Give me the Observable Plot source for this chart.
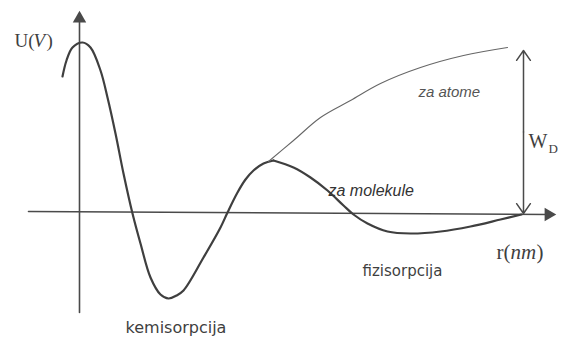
<!DOCTYPE html>
<html>
<head>
<meta charset="utf-8">
<script src="https://cdn.jsdelivr.net/npm/d3@7"></script>
<script src="https://cdn.jsdelivr.net/npm/@observablehq/plot@0.6"></script>
<style>
  body { margin: 0; background: #fff; }
  #chart svg { display: block; }
</style>
</head>
<body>
<div id="chart"></div>
<script>
// Distance r (arbitrary units, origin at the surface) and potential U (arbitrary units)
const chemR = [-18, -14, -8, 2, 10, 20, 27, 35, 43, 52, 60, 70, 80, 88, 96, 103, 123, 140, 147, 157, 165, 173, 183, 193];
const chemU = [136, 152, 165, 170, 165, 142, 115, 79, 39, -1, -31, -65, -82, -86, -83, -78, -45, -15, 0, 20, 33, 42, 49, 52];

const molR = [193, 213, 230, 247, 263, 273, 287, 307, 330, 360, 390, 420, 441];
const molU = [52, 45, 35, 22, 7, -2, -11, -19, -21, -19, -14, -7, -2];

const atomR = [188, 213, 240, 270, 300, 340, 383, 427];
const atomU = [51, 72, 95, 112, 129, 145, 157, 165];

const axisXR = [-52, 468];
const axisXU = [1, -2];
const axisYR = [-1, -1];
const axisYU = [-100, 194];

const wdR = 443;
const wdTop = 162;
const wdBottom = -1;

const labels = ["U(", "V", ")", "za atome", "za molekule", "r(", "nm", ")", "fizisorpcija", "kemisorpcija", "W", "D"];

const chem = chemR.map((r, i) => ({r, u: chemU[i]}));
const mol = molR.map((r, i) => ({r, u: molU[i]}));
const atom = atomR.map((r, i) => ({r, u: atomU[i]}));
const axX = axisXR.map((r, i) => ({r, u: axisXU[i]}));
const axY = axisYR.map((r, i) => ({r, u: axisYU[i]}));

const ink = "#3f3f3f";
const serif = "Liberation Serif, DejaVu Serif, serif";
const sans = "DejaVu Sans, Liberation Sans, sans-serif";
const italSans = "Liberation Sans, Arial, sans-serif";

const plot = Plot.plot({
  width: 569,
  height: 340,
  margin: 0,
  x: {domain: [-80, 489], axis: null},
  y: {domain: [-128, 212], axis: null},
  marks: [
    // axes
    Plot.line(axX, {x: "r", y: "u", stroke: "#4a4a4a", strokeWidth: 1.6}),
    Plot.line(axY, {x: "r", y: "u", stroke: "#4a4a4a", strokeWidth: 1.6}),
    Plot.dot([{r: -1, u: 194}], {x: "r", y: "u", symbol: "triangle", r: 5, fill: "#4a4a4a", stroke: "none"}),
    Plot.dot([{r: 468, u: -2}], {x: "r", y: "u", symbol: "triangle", r: 5, rotate: 90, fill: "#4a4a4a", stroke: "none"}),
    // curves
    Plot.line(chem, {x: "r", y: "u", curve: "catmull-rom", stroke: ink, strokeWidth: 2.2}),
    Plot.line(mol, {x: "r", y: "u", curve: "catmull-rom", stroke: ink, strokeWidth: 2.2}),
    Plot.line(atom, {x: "r", y: "u", curve: "catmull-rom", stroke: "#666", strokeWidth: 1.1}),
    // W_D double arrow
    Plot.arrow([{x1: wdR, y1: (wdTop + wdBottom) / 2, x2: wdR, y2: wdTop}, {x1: wdR, y1: (wdTop + wdBottom) / 2, x2: wdR, y2: wdBottom}],
      {x1: "x1", y1: "y1", x2: "x2", y2: "y2", stroke: "#4a4a4a", strokeWidth: 1.5, headLength: 12, headAngle: 70}),
    // labels
    Plot.text([labels[0]], {x: -66, y: 172, text: d => d, textAnchor: "start", fontSize: 19, fontFamily: serif, fill: ink}),
    Plot.text([labels[1]], {x: -47, y: 172, text: d => d, textAnchor: "start", fontSize: 19, fontFamily: serif, fontStyle: "italic", fill: ink}),
    Plot.text([labels[2]], {x: -34, y: 172, text: d => d, textAnchor: "start", fontSize: 19, fontFamily: serif, fill: ink}),
    Plot.text([labels[3]], {x: 338, y: 120, text: d => d, textAnchor: "start", fontSize: 15, fontFamily: italSans, fontStyle: "italic", fill: "#555"}),
    Plot.text([labels[4]], {x: 248, y: 22, text: d => d, textAnchor: "start", fontSize: 16, fontFamily: italSans, fontStyle: "italic", fill: "#333"}),
    Plot.text([labels[5]], {x: 416, y: -40, text: d => d, textAnchor: "start", fontSize: 21, fontFamily: serif, fill: ink}),
    Plot.text([labels[6]], {x: 430, y: -40, text: d => d, textAnchor: "start", fontSize: 21, fontFamily: serif, fontStyle: "italic", fill: ink}),
    Plot.text([labels[7]], {x: 456, y: -40, text: d => d, textAnchor: "start", fontSize: 21, fontFamily: serif, fill: ink}),
    Plot.text([labels[8]], {x: 282, y: -59, text: d => d, textAnchor: "start", fontSize: 15, fontFamily: sans, fill: ink}),
    Plot.text([labels[9]], {x: 45, y: -115, text: d => d, textAnchor: "start", fontSize: 16, fontFamily: sans, fill: ink}),
    Plot.text([labels[10]], {x: 448, y: 71, text: d => d, textAnchor: "start", fontSize: 20, fontFamily: serif, fill: ink}),
    Plot.text([labels[11]], {x: 468, y: 64, text: d => d, textAnchor: "start", fontSize: 13, fontFamily: serif, fill: ink})
  ]
});
document.getElementById("chart").append(plot);
</script>
</body>
</html>
